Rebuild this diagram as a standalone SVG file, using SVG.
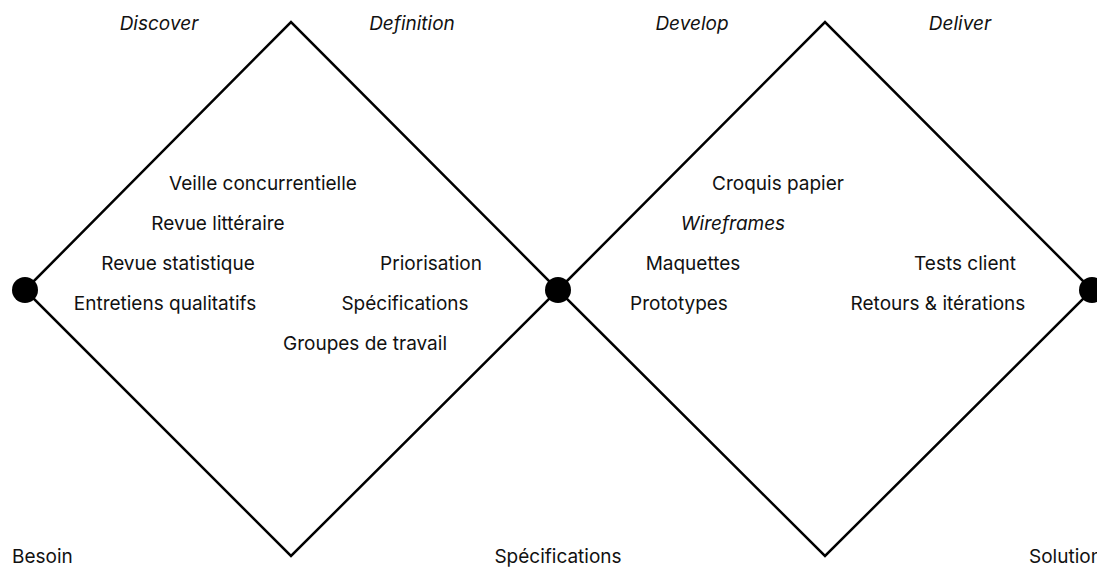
<svg xmlns="http://www.w3.org/2000/svg" width="1097" height="568" viewBox="0 0 1097 568">
<style>
.t{font-family:Inter,"Noto Sans","Liberation Sans",sans-serif;font-size:19px;fill:#111;text-anchor:middle}
.i{font-style:italic}
.s{text-anchor:start}
.edge{fill:none;stroke:#000;stroke-width:2.5}
.dot{fill:#000}
</style>
<rect width="1097" height="568" fill="#fff"/>
<g id="connectors">
<path class="edge" d="M25,290 L291,22 L558,290 L291,556 Z"/>
<path class="edge" d="M558,290 L825,22 L1092,290 L825,556 Z"/>
</g>
<g id="node-besoin"><circle class="dot" cx="25" cy="290" r="13"/><text class="t s" x="12" y="563">Besoin</text></g>
<g id="node-specifications"><circle class="dot" cx="558" cy="290" r="13"/><text class="t" x="558" y="563">Spécifications</text></g>
<g id="node-solution"><circle class="dot" cx="1092" cy="290" r="13"/><text class="t s" x="1029" y="563">Solution</text></g>
<g id="headers">
<text class="t i" x="159" y="30">Discover</text>
<text class="t i" x="412" y="30">Definition</text>
<text class="t i" x="692" y="30">Develop</text>
<text class="t i" x="960" y="30">Deliver</text>
</g>
<g id="discover-items">
<text class="t" x="263" y="190">Veille concurrentielle</text>
<text class="t" x="218" y="230">Revue littéraire</text>
<text class="t" x="178" y="270">Revue statistique</text>
<text class="t" x="165" y="310">Entretiens qualitatifs</text>
</g>
<g id="definition-items">
<text class="t" x="431" y="270">Priorisation</text>
<text class="t" x="405" y="310">Spécifications</text>
<text class="t" x="365" y="350">Groupes de travail</text>
</g>
<g id="develop-items">
<text class="t" x="778" y="190">Croquis papier</text>
<text class="t i" x="733" y="230">Wireframes</text>
<text class="t" x="693" y="270">Maquettes</text>
<text class="t" x="679" y="310">Prototypes</text>
</g>
<g id="deliver-items">
<text class="t" x="965" y="270">Tests client</text>
<text class="t" x="938" y="310">Retours &amp; itérations</text>
</g>
</svg>
